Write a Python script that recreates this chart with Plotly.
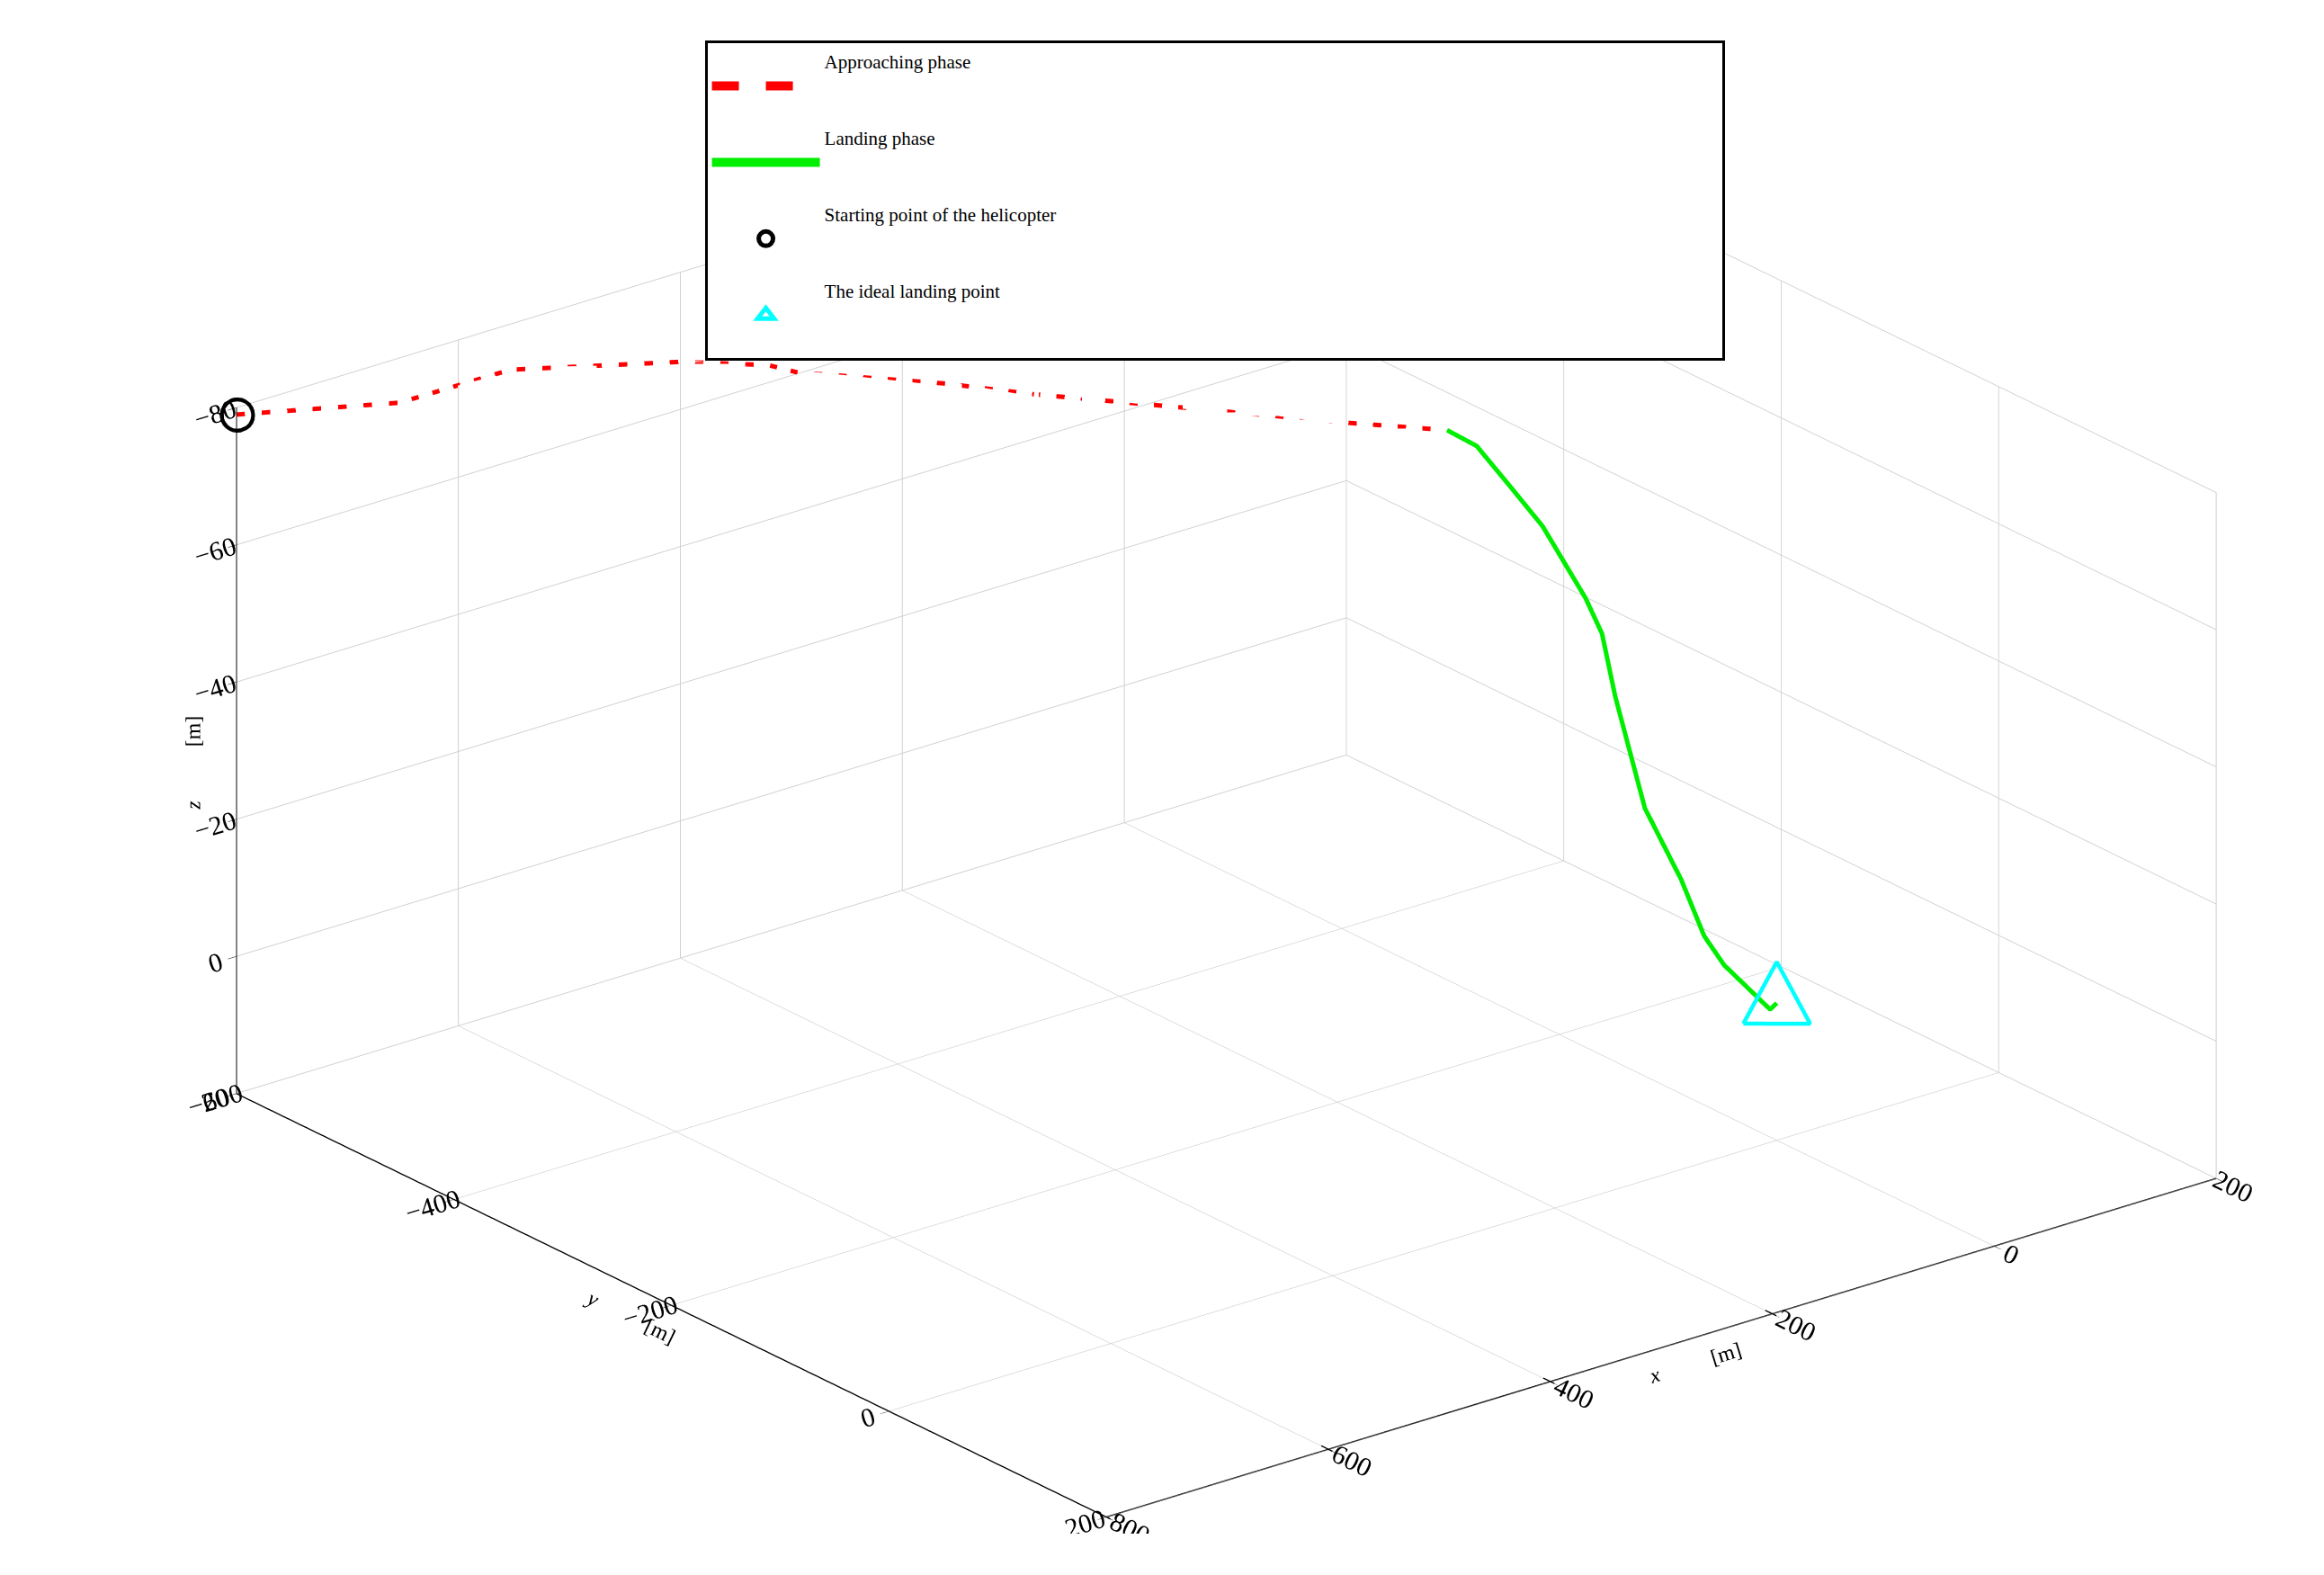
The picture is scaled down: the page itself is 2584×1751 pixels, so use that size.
import plotly.graph_objects as go

# approaching phase (red)
app_x = [-800, -704, -605, -502, -457, -449, -380, -343, -256, -203, -155]
app_y = [-600, -548, -547, -496, -461, -442, -377, -333, -245, -190, -145]
app_z = [-79, -80, -80, -80, -80, -80, -80, -80, -80, -80, -80]

# landing phase (green)
land_s = [0, 0.09, 0.2, 0.29, 0.42, 0.47, 0.51, 0.6, 0.71, 0.78, 0.84, 0.98, 1.0]
land_z = [-80, -78, -72, -67, -57, -52, -43, -27, -17, -9, -5, 1, 0]
land_x = [-155 + 155 * s for s in land_s]
land_y = [-145 + 145 * s for s in land_s]

start_pt = (-800, -600, -79)
ideal_pt = (0, 0, 0)

font = "Liberation Serif"
pad = "<br>&nbsp;<br>"
fig = go.Figure()

fig.add_trace(go.Scatter3d(x=app_x, y=app_y, z=app_z, mode='lines',
                           line=dict(color='#ff0000', width=10, dash='dash'),
                           name='Approaching phase' + pad))
fig.add_trace(go.Scatter3d(x=land_x, y=land_y, z=land_z, mode='lines',
                           line=dict(color='#00ee00', width=10),
                           name='Landing phase' + pad))
fig.add_trace(go.Scatter3d(x=[start_pt[0]], y=[start_pt[1]], z=[start_pt[2]],
                           mode='markers',
                           marker=dict(symbol='circle-open', size=22, color='black',
                                       line=dict(width=8, color='black')),
                           name='Starting point of the helicopter' + '&nbsp;' * 140 + pad))

# triangle marker drawn in a plane facing the viewer
d, h = 22, 6
ux, uy = 0.84, 0.54
tx = [ideal_pt[0] - d * ux, ideal_pt[0] + d * ux, ideal_pt[0], ideal_pt[0] - d * ux]
ty = [ideal_pt[1] - d * uy, ideal_pt[1] + d * uy, ideal_pt[1], ideal_pt[1] - d * uy]
tz = [ideal_pt[2] + h / 2, ideal_pt[2] + h / 2, ideal_pt[2] - h, ideal_pt[2] + h / 2]
fig.add_trace(go.Scatter3d(x=tx, y=ty, z=tz, mode='lines',
                           line=dict(color='#00ffff', width=9), showlegend=False))
fig.add_trace(go.Scatter(x=[None], y=[None], mode='markers',
                         marker=dict(symbol='triangle-up-open', size=30, color='#00ffff',
                                     line=dict(width=5)),
                         name='The ideal landing point' + pad))

ax = dict(showbackground=False, gridcolor='#d0d0d0', gridwidth=2,
          showline=True, linecolor='black', linewidth=3, zeroline=False,
          ticks='outside', tickcolor='black', ticklen=12,
          tickfont=dict(family=font, size=19, color='black'),
          showspikes=False)

fig.update_layout(
    width=2584, height=1751,
    paper_bgcolor='white', plot_bgcolor='white',
    font=dict(family=font, color='black'),
    xaxis=dict(visible=False), yaxis=dict(visible=False),
    showlegend=True,
    legend=dict(x=0.297, y=0.99, xanchor='left', yanchor='top',
                bordercolor='black', borderwidth=3, bgcolor='white',
                font=dict(family=font, size=21), itemwidth=120),
    scene=dict(
        xaxis=dict(ax, range=[200, -800], dtick=200,
                   title=dict(text='<i>x</i>          [m]', font=dict(family=font, size=24))),
        yaxis=dict(ax, range=[-600, 200], dtick=200,
                   title=dict(text='<i>y</i>          [m]', font=dict(family=font, size=24))),
        zaxis=dict(ax, range=[20, -80], dtick=20,
                   title=dict(text='<i>z</i>          [m]', font=dict(family=font, size=24))),
        aspectmode='manual', aspectratio=dict(x=2.0, y=1.98, z=1.05),
        camera=dict(eye=dict(x=1.14, y=1.44, z=0.717), up=dict(x=0, y=0, z=1),
                    center=dict(x=0, y=0, z=-0.05),
                    projection=dict(type='orthographic')),
        domain=dict(x=[0.05, 1], y=[0.02, 0.94]),
    ),
    margin=dict(l=20, r=20, t=20, b=20),
)

fig.write_html("out.html")
